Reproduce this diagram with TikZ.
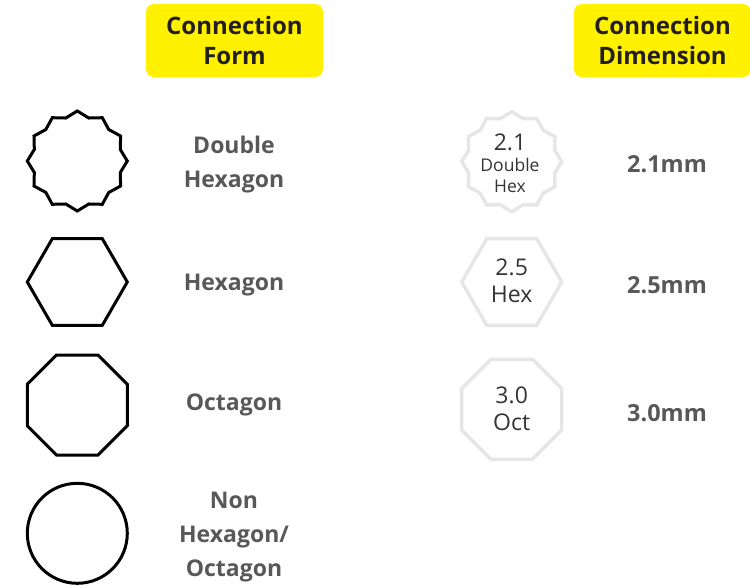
\documentclass[tikz,border=0pt]{standalone}
\usepackage{fontspec}
\setmainfont{Open Sans}
\definecolor{hdryellow}{RGB}{255,241,0}
\definecolor{hdrtext}{RGB}{35,31,32}
\definecolor{lbl}{RGB}{88,88,88}
\definecolor{inner}{RGB}{51,51,51}
\definecolor{lightedge}{RGB}{230,230,230}
\begin{document}
\begin{tikzpicture}[x=1pt,y=-1pt,
  header/.style={fill=hdryellow, rounded corners=8pt, minimum width=177pt, minimum height=73pt, align=center, text=hdrtext, font=\fontsize{24}{30}\selectfont\bfseries},
  formshape/.style={draw=black, line width=3pt},
  dimshape/.style={draw=lightedge, line width=3.5pt},
  formlabel/.style={align=center, text=lbl, font=\fontsize{23}{34}\selectfont\bfseries},
  dimlabel/.style={text=lbl, font=\fontsize{23.5}{26}\selectfont\bfseries},
  innertext/.style={align=center, text=inner, font=\fontsize{23}{27}\selectfont},
]
\useasboundingbox (0,0) rectangle (750,587);
% headers
\node[header] (h1) at (234.5,40.5) {Connection\\Form};
\node[header] (h2) at (662.5,40.5) {Connection\\Dimension};

% left shapes
\coordinate (c1) at (77.3,161);
\coordinate (c2) at (77.3,282);
\coordinate (c3) at (77.3,405);
\coordinate (c4) at (77.3,533.3);
\begin{scope}[shift={(c1)}]
  \draw[formshape] (90:50) \foreach \k in {1,...,23} { -- ({90+15*\k}:{47.25+2.75*cos(180*\k)}) } -- cycle;
\end{scope}
\begin{scope}[shift={(c2)}]
  \draw[formshape] (0:50) \foreach \a in {60,120,...,300} { -- (\a:50) } -- cycle;
\end{scope}
\begin{scope}[shift={(c3)}]
  \draw[formshape] (22.5:54.12) \foreach \a in {67.5,112.5,...,337.5} { -- (\a:54.12) } -- cycle;
\end{scope}
\draw[formshape] (c4) circle[radius=50];

% left labels
\node[formlabel] (l1) at (234,164.5) {Double\\Hexagon};
\node[formlabel] (l2) at (234,285) {Hexagon};
\node[formlabel] (l3) at (234,405) {Octagon};
\node[formlabel] (l4) at (234,537) {Non\\Hexagon/\\Octagon};

% right shapes
\coordinate (d1) at (511.7,161.7);
\coordinate (d2) at (511.7,282);
\coordinate (d3) at (511.7,409.3);
\begin{scope}[shift={(d1)}]
  \draw[dimshape] (90:50) \foreach \k in {1,...,23} { -- ({90+15*\k}:{47.25+2.75*cos(180*\k)}) } -- cycle;
\end{scope}
\begin{scope}[shift={(d2)}]
  \draw[dimshape] (0:50) \foreach \a in {60,120,...,300} { -- (\a:50) } -- cycle;
\end{scope}
\begin{scope}[shift={(d3)}]
  \draw[dimshape] (22.5:54.12) \foreach \a in {67.5,112.5,...,337.5} { -- (\a:54.12) } -- cycle;
\end{scope}
\node[innertext] (t1) at (510,163) {2.1\\[-6pt]{\fontsize{17.5}{20}\selectfont Double}\\[-6pt]{\fontsize{17.5}{20}\selectfont Hex}};
\node[innertext] (t2) at (511.7,281) {2.5\\Hex};
\node[innertext] (t3) at (511.7,408.5) {3.0\\Oct};

% dimension labels
\node[dimlabel] (m1) at (667,164) {2.1mm};
\node[dimlabel] (m2) at (667,285) {2.5mm};
\node[dimlabel] (m3) at (667,413) {3.0mm};
\end{tikzpicture}
\end{document}
